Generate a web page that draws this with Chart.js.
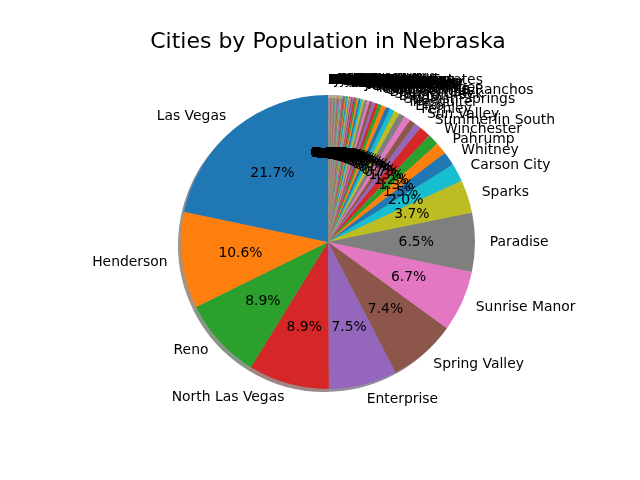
<!DOCTYPE html>
<html>
<head>
<meta charset="utf-8">
<script src="https://cdn.jsdelivr.net/npm/chart.js@4"></script>
<style>
  html, body { margin: 0; padding: 0; background: #fff; }
  #wrap { width: 640px; height: 480px; }
</style>
</head>
<body>
<div id="wrap"><canvas id="pieChart" width="640" height="480"></canvas></div>
<script>
// cities in pie order (matplotlib order, counterclockwise from the top)
const cities = [
  'Las Vegas', 'Henderson', 'Reno', 'North Las Vegas', 'Enterprise', 'Spring Valley',
  'Sunrise Manor', 'Paradise', 'Sparks', 'Carson City', 'Whitney', 'Pahrump',
  'Winchester', 'Summerlin South', 'Sun Valley', 'Fernley', 'Elko', 'Mesquite',
  'Spanish Springs', 'Dayton', 'Spring Creek', 'Boulder City', 'Gardnerville Ranchos',
  'Cold Springs', 'Incline Village', 'Fallon', 'Laughlin', 'Winnemucca', 'Moapa Valley',
  'Johnson Lane', 'Gardnerville', 'Indian Hills', 'Silver Springs', 'Lemmon Valley',
  'West Wendover', 'Ely', 'Minden', 'Nellis AFB', 'Battle Mountain', 'Logandale',
  'Yerington', 'Hawthorne', 'Washoe Valley', 'Overton', 'Carlin', 'Tonopah', 'Kingsbury',
  'Sandy Valley', 'Lovelock', 'Golden Valley', 'Topaz Ranch Estates', 'Smith Valley',
  'Stagecoach', 'Verdi', 'Amargosa Valley', 'Mogul', 'Ruhenstroth', 'Bunkerville',
  'Wells', 'McGill', 'Primm', 'Caliente', 'Moapa Town', 'Jackpot', 'Pioche', 'Alamo',
  'Beatty', 'Round Hill Village', 'Steamboat', 'Indian Springs', 'Genoa', 'Panaca',
  'Owyhee', 'Virginia City', 'Stateline', 'Wadsworth', 'Schurz', 'Round Mountain',
  'Zephyr Cove', 'Fish Springs', 'Searchlight', 'Eureka', 'Crescent Valley', 'Ruth',
  'Mound House', 'Blue Diamond', 'Cal-Nev-Ari', 'Crystal Bay', 'Goldfield', 'Lund',
  'Silver Peak', 'Gabbs', 'Mina', 'Goodsprings', 'Mount Charleston', 'Nixon', 'Austin',
  'Baker', 'Manhattan', 'Gerlach', 'Dyer', 'Luning', 'Hiko', 'Empire', 'Nelson'
];
const population = [
  641903, 313600, 264165, 262527, 221831, 219000,
  199000, 191238, 108445, 58639, 45000, 38500,
  36400, 38000, 21178, 20500, 20400, 20000,
  17500, 15100, 14900, 14800, 11300,
  10100, 9400, 9300, 8600, 8400, 6900,
  6500, 6200, 5600, 5600, 5000,
  4500, 4000, 3600, 3300, 3300, 3200,
  3100, 3100, 3000, 2800, 2300, 2200, 2100,
  2000, 1900, 1700, 1600, 1600,
  1500, 1400, 1400, 1300, 1300, 1300,
  1200, 1100, 1100, 1100, 1000, 1000, 1000, 1000,
  1000, 1000, 1000, 900, 900, 900,
  900, 800, 800, 800, 700, 700,
  600, 600, 500, 400, 400, 400,
  400, 300, 300, 300, 300, 280,
  250, 240, 200, 200, 200, 200, 150,
  140, 120, 110, 100, 90, 80, 70, 30
];
const tab10 = ['#1f77b4', '#ff7f0e', '#2ca02c', '#d62728', '#9467bd',
               '#8c564b', '#e377c2', '#7f7f7f', '#bcbd22', '#17becf'];

const total = population.reduce((a, b) => a + b, 0);
const colors = cities.map((_, i) => tab10[i % 10]);

// chart.js goes clockwise, matplotlib went counterclockwise -> reverse
const chartLabels = cities.slice().reverse();
const chartData   = population.slice().reverse();
const chartColors = colors.slice().reverse();
const FONT = '"DejaVu Sans", sans-serif';

function shade(hex) {
  const n = parseInt(hex.slice(1), 16);
  const r = Math.round(((n >> 16) & 255) * 0.3);
  const g = Math.round(((n >> 8) & 255) * 0.3);
  const b = Math.round((n & 255) * 0.3);
  return `rgba(${r},${g},${b},0.5)`;
}

// gray shadow under the wedges, offset down-left
const shadowPlugin = {
  id: 'pieShadow',
  beforeDatasetsDraw(chart) {
    const ctx = chart.ctx;
    const meta = chart.getDatasetMeta(0);
    ctx.save();
    meta.data.forEach((arc, i) => {
      const p = arc.getProps(['x', 'y', 'startAngle', 'endAngle', 'outerRadius'], true);
      const off = p.outerRadius * 0.02;
      ctx.beginPath();
      ctx.moveTo(p.x - off, p.y + off);
      ctx.arc(p.x - off, p.y + off, p.outerRadius, p.startAngle, p.endAngle);
      ctx.closePath();
      ctx.fillStyle = shade(chartColors[i]);
      ctx.fill();
    });
    ctx.restore();
  }
};

// city names outside, percentages inside
const labelPlugin = {
  id: 'pieLabels',
  afterDatasetsDraw(chart) {
    const ctx = chart.ctx;
    const meta = chart.getDatasetMeta(0);
    ctx.save();
    ctx.fillStyle = '#000';
    ctx.font = `13.9px ${FONT}`;
    ctx.textBaseline = 'middle';
    for (let k = meta.data.length - 1; k >= 0; k--) {
      const arc = meta.data[k];
      const p = arc.getProps(['x', 'y', 'startAngle', 'endAngle', 'outerRadius'], true);
      const mid = (p.startAngle + p.endAngle) / 2;
      const c = Math.cos(mid), s = Math.sin(mid);
      ctx.textAlign = c > 0 ? 'left' : 'right';
      ctx.fillText(chartLabels[k], p.x + 1.1 * p.outerRadius * c, p.y + 1.1 * p.outerRadius * s);
      ctx.textAlign = 'center';
      const pct = (chartData[k] / total * 100).toFixed(1) + '%';
      ctx.fillText(pct, p.x + 0.6 * p.outerRadius * c, p.y + 0.6 * p.outerRadius * s);
    }
    ctx.restore();
  }
};

new Chart(document.getElementById('pieChart'), {
  type: 'pie',
  data: {
    labels: chartLabels,
    datasets: [{
      data: chartData,
      backgroundColor: chartColors,
      borderWidth: 0,
      hoverOffset: 0
    }]
  },
  options: {
    responsive: false,
    animation: false,
    events: [],
    layout: { padding: { left: 16, right: 0, top: 0, bottom: 91 } },
    plugins: {
      legend: { display: false },
      tooltip: { enabled: false },
      title: {
        display: true,
        text: 'Cities by Population in Nebraska',
        color: '#000',
        font: { family: FONT, size: 22, weight: 'normal', lineHeight: 1.2 },
        padding: { top: 28.8, bottom: 39.8 }
      }
    }
  },
  plugins: [shadowPlugin, labelPlugin]
});
</script>
</body>
</html>
